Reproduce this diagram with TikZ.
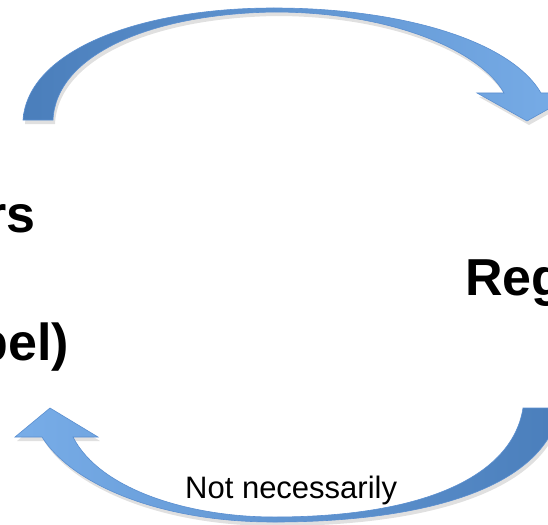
\documentclass[tikz,border=0pt]{standalone}
\usepackage{fontspec}
\setmainfont{Liberation Sans}
\definecolor{arrowdark}{HTML}{4A7EBB}
\definecolor{arrowlight}{HTML}{78ADE8}
\definecolor{arrowedge}{HTML}{5B8FD0}
\tikzset{
  bigtext/.style={inner sep=0pt, font=\fontsize{52}{60}\selectfont\bfseries},
  smalltext/.style={inner sep=0pt, font=\fontsize{31}{36}\selectfont},
  toparrow/.style={insert path={
    (23,120) .. controls (28,50) and (140,8) .. (274,8)
    .. controls (400,8) and (510,40) .. (541,93)
    -- (577,93) -- (527,121) -- (477,93) -- (504,93)
    .. controls (480,50) and (390,12) .. (274,12)
    .. controls (150,14) and (56,55) .. (53,120) -- cycle}},
  botarrow/.style={insert path={
    (523,408) -- (560,408)
    .. controls (545,490) and (420,522) .. (274,522)
    .. controls (155,522) and (70,482) .. (42,437)
    -- (15,437) -- (50,408) -- (98,437) -- (73,437)
    .. controls (100,490) and (190,517) .. (274,517)
    .. controls (420,517) and (512,478) .. (523,408) -- cycle}},
  shadowfill/.style={fill=black, fill opacity=0.12},
}
\begin{document}
\begin{tikzpicture}[x=1pt, y=-1pt]
\useasboundingbox (0,0) rectangle (548,524);
\clip (0,0) rectangle (548,524);
\fill[white] (0,0) rectangle (548,524);
% shadows
\begin{scope}[shift={(2,4)}]
  \path[shadowfill, toparrow];
  \path[shadowfill, botarrow];
\end{scope}
% arrows
\path[left color=arrowdark, right color=arrowlight, draw=arrowedge, line width=0.6pt, toparrow];
\path[left color=arrowlight, right color=arrowdark, draw=arrowedge, line width=0.6pt, botarrow];
% texts
\node[bigtext, anchor=base east] (lefttop) at (36,232) {rs};
\node[bigtext, anchor=base east] (leftbot) at (69,360) {bel)};
\node[bigtext, anchor=base west] (right) at (465,295) {Reg};
\node[smalltext, anchor=base west] (label) at (185,498) {Not necessarily};
\end{tikzpicture}
\end{document}
